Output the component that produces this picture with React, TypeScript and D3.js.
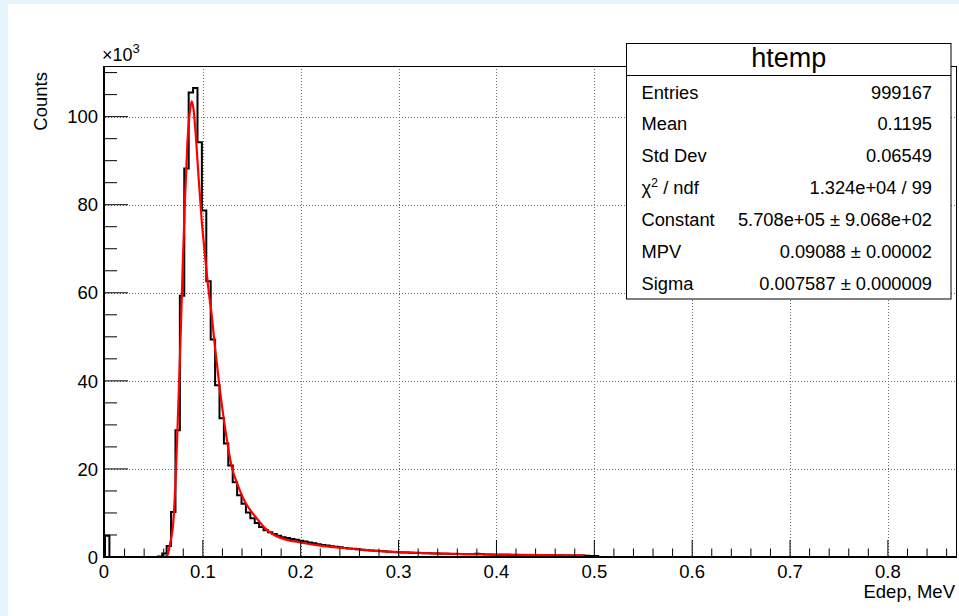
import React from "react";
import * as d3 from "d3";

const W = 959;
const H = 616;

// histogram: bin width in MeV, counts in units of 10^3
const BIN_WIDTH = 0.0045;
const binCounts = [
  4.8, 0, 0, 0, 0, 0, 0, 0, 0, 0,
  0, 0, 0.1, 0.8, 2.5, 10.2, 28.8, 59.3, 88.2, 105.5,
  106.5, 94.2, 78.7, 62.6, 49.4, 39.0, 31.5, 25.8, 20.8, 17.0,
  14.0, 12.1, 10.1, 8.8, 7.7, 6.8, 6.1, 5.6, 5.2, 4.8,
  4.5, 4.3, 4.1, 3.9, 3.7, 3.5, 3.3, 3.1, 2.9, 2.75,
  2.6, 2.45, 2.3, 2.2, 2.05, 1.95, 1.85, 1.75, 1.65, 1.55,
  1.5, 1.4, 1.35, 1.3, 1.2, 1.15, 1.1, 1.05, 1.0, 0.97,
  0.93, 0.9, 0.87, 0.84, 0.81, 0.78, 0.75, 0.72, 0.7, 0.68,
  0.66, 0.64, 0.62, 0.6, 0.72, 0.7, 0.56, 0.55, 0.53, 0.52,
  0.5, 0.49, 0.48, 0.47, 0.46, 0.45, 0.44, 0.43, 0.42, 0.41,
  0.4, 0.39, 0.38, 0.37, 0.36, 0.35, 0.34, 0.33, 0.32, 0.3,
  0.25, 0.2, 0,
];

// Landau fit curve (MeV, counts ×10^3)
const fitEdep = [
  0.060, 0.0635, 0.0665, 0.0699, 0.0726, 0.075, 0.0774, 0.0794, 0.0818, 0.0842,
  0.0869, 0.0886, 0.0903, 0.0927, 0.0954, 0.0988, 0.1022, 0.1056, 0.109, 0.1124,
  0.1175, 0.1226, 0.1295, 0.1363, 0.1431, 0.15, 0.1568, 0.1636, 0.1738, 0.184,
  0.2, 0.22, 0.24, 0.26, 0.28, 0.30, 0.33, 0.36, 0.40, 0.45, 0.49,
];
const fitCounts = [
  0, 0.3, 3.0, 8.3, 20, 35, 51, 66, 81.5, 94,
  101.5, 103.5, 102, 96, 87, 76.5, 68.5, 61, 55, 47.6,
  37.8, 29.5, 20.5, 16, 12.5, 10.2, 8.3, 6.5, 4.9, 4.0,
  3.3, 2.6, 2.1, 1.7, 1.35, 1.1, 0.85, 0.7, 0.55, 0.45, 0.35,
];

const xTicks = [0, 0.1, 0.2, 0.3, 0.4, 0.5, 0.6, 0.7, 0.8];
const xTickLabels = ["0", "0.1", "0.2", "0.3", "0.4", "0.5", "0.6", "0.7", "0.8"];
const yTicks = [0, 20, 40, 60, 80, 100];
const yTickLabels = ["0", "20", "40", "60", "80", "100"];

const statsTitle = "htemp";
const statsLabels = ["Entries", "Mean", "Std Dev", "CHI2", "Constant", "MPV", "Sigma"];
const statsValues = [
  "999167",
  "0.1195",
  "0.06549",
  "1.324e+04 / 99",
  "5.708e+05 \u00b1 9.068e+02",
  "0.09088 \u00b1 0.00002",
  "0.007587 \u00b1 0.000009",
];

const FONT = "'Liberation Sans', Arial, Helvetica, sans-serif";

export default function App() {
  const X0 = 105, X1 = 957, Y0 = 557, Y1 = 66;
  const xMax = 0.8706;
  const yMax = 111.5;
  const x = d3.scaleLinear().domain([0, xMax]).range([X0, X1]);
  const y = d3.scaleLinear().domain([0, yMax]).range([Y0, Y1]);

  const histPts: [number, number][] = [[0, 0]];
  binCounts.forEach((v, i) => histPts.push([i * BIN_WIDTH, v]));
  histPts.push([xMax, 0]);
  const histPath = d3
    .line<[number, number]>()
    .x((d) => x(d[0]))
    .y((d) => y(d[1]))
    .curve(d3.curveStepAfter)(histPts) as string;

  const fitPts: [number, number][] = fitEdep.map((e, i) => [e, fitCounts[i]]);
  const fitPath = d3
    .line<[number, number]>()
    .x((d) => x(d[0]))
    .y((d) => y(d[1]))
    .curve(d3.curveMonotoneX)(fitPts) as string;

  const xMinor = d3.range(0, xMax, 0.02).filter((v) => Math.abs(v / 0.1 - Math.round(v / 0.1)) > 1e-6);
  const yMinor = d3.range(0, yMax, 5).filter((v) => v % 20 !== 0);

  // stats box
  const bx0 = 626.5, bx1 = 951, by0 = 43.5, by1 = 299, bsep = 75;
  const rowY0 = 98.5, rowStep = 31.9;

  return (
    <div style={{ position: "absolute", left: 0, top: 0, width: W, height: H }}>
      <svg width={W} height={H} style={{ display: "block" }} fontFamily={FONT}>
        <defs>
          <clipPath id="frameClip">
            <rect x={X0} y={Y1} width={X1 - X0} height={Y0 - Y1} />
          </clipPath>
        </defs>
        <rect x={0} y={0} width={W} height={H} fill="#e6f4fc" />
        <rect x={8} y={4} width={W - 8} height={H - 4} fill="#ffffff" />

        {/* grid */}
        <g stroke="#6a6a6a" strokeWidth={1} strokeDasharray="1,2">
          {xTicks.slice(1).map((t) => (
            <line key={"gx" + t} x1={Math.round(x(t)) + 0.5} x2={Math.round(x(t)) + 0.5} y1={Y1} y2={Y0} />
          ))}
          {yTicks.slice(1).map((t) => (
            <line key={"gy" + t} x1={X0} x2={X1} y1={Math.round(y(t)) + 0.5} y2={Math.round(y(t)) + 0.5} />
          ))}
        </g>

        {/* histogram */}
        <g clipPath="url(#frameClip)">
          <path d={histPath} fill="none" stroke="#000" strokeWidth={2} />
          <path d={fitPath} fill="none" stroke="#ff0000" strokeWidth={2.2} />
        </g>

        {/* frame */}
        <line x1={X0} x2={X1} y1={Y1 + 0.5} y2={Y1 + 0.5} stroke="#000" strokeWidth={1} />
        <line x1={X1 - 0.5} x2={X1 - 0.5} y1={Y1} y2={Y0} stroke="#000" strokeWidth={1} />
        <line x1={X0 - 1} x2={X0 - 1} y1={Y1} y2={Y0 + 1} stroke="#000" strokeWidth={2} />
        <line x1={X0 - 2} x2={X1} y1={Y0} y2={Y0} stroke="#000" strokeWidth={2} />

        {/* ticks */}
        <g stroke="#000" strokeWidth={1}>
          {xTicks.map((t) => (
            <line key={"xt" + t} x1={x(t)} x2={x(t)} y1={Y0} y2={Y0 - 17} />
          ))}
          {xMinor.map((t) => (
            <line key={"xm" + t} x1={x(t)} x2={x(t)} y1={Y0} y2={Y0 - 8.5} />
          ))}
          {yTicks.map((t) => (
            <line key={"yt" + t} x1={X0} x2={X0 + 23} y1={y(t)} y2={y(t)} />
          ))}
          {yMinor.map((t) => (
            <line key={"ym" + t} x1={X0} x2={X0 + 12} y1={y(t)} y2={y(t)} />
          ))}
        </g>

        {/* tick labels */}
        <g fontSize={18.5} fill="#000">
          {xTicks.map((t, i) => (
            <text key={"xl" + t} x={x(t) - (i === 0 ? 1 : 0)} y={578} textAnchor="middle">
              {xTickLabels[i]}
            </text>
          ))}
          {yTicks.map((t, i) => (
            <text key={"yl" + t} x={98} y={i === 0 ? 564 : y(t) + 6.7} textAnchor="end">
              {yTickLabels[i]}
            </text>
          ))}
        </g>

        {/* axis titles */}
        <text x={102} y={61} fontSize={18} fill="#000">
          {"\u00d710"}
          <tspan dy={-8} fontSize={13}>3</tspan>
        </text>
        <text
          transform={`translate(46.5, 72) rotate(-90)`}
          fontSize={18.5}
          textAnchor="end"
          fill="#000"
        >
          Counts
        </text>
        <text x={955} y={598} fontSize={18.5} textAnchor="end" fill="#000">
          Edep, MeV
        </text>

        {/* stats box */}
        <rect x={bx0} y={by0} width={bx1 - bx0} height={by1 - by0} fill="#fff" stroke="#000" strokeWidth={1} />
        <line x1={bx0} x2={bx1} y1={bsep + 0.5} y2={bsep + 0.5} stroke="#000" strokeWidth={1} />
        <text x={(bx0 + bx1) / 2} y={67} fontSize={27} textAnchor="middle" fill="#000">
          {statsTitle}
        </text>
        <g fontSize={18.3} fill="#000">
          {statsLabels.map((lab, i) => (
            <text key={"sl" + i} x={641.5} y={rowY0 + i * rowStep}>
              {lab === "CHI2" ? (
                <>
                  <tspan>{"\u03c7"}</tspan>
                  <tspan dy={-7} fontSize={12.5}>2</tspan>
                  <tspan dy={7}>{" / ndf"}</tspan>
                </>
              ) : (
                lab
              )}
            </text>
          ))}
          {statsValues.map((v, i) => (
            <text key={"sv" + i} x={932} y={rowY0 + i * rowStep} textAnchor="end">
              {v}
            </text>
          ))}
        </g>
      </svg>
    </div>
  );
}
